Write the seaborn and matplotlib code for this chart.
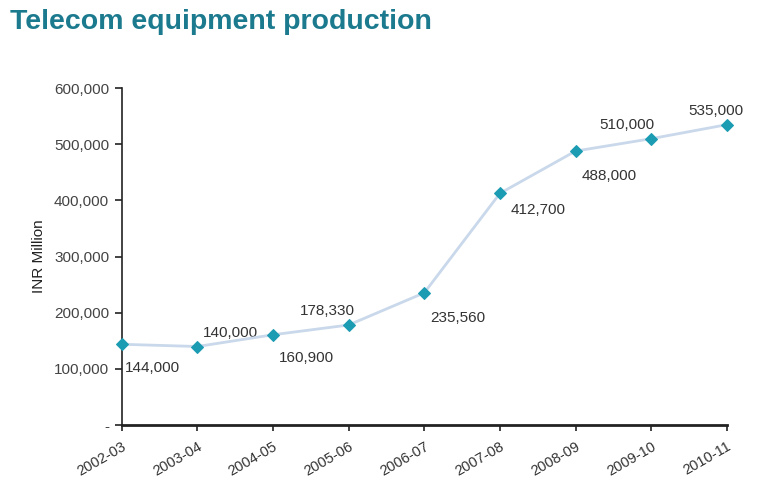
import pandas as pd
import matplotlib.pyplot as plt
import seaborn as sns
from matplotlib.ticker import FuncFormatter

# Data
years = ['2002-03', '2003-04', '2004-05', '2005-06', '2006-07',
         '2007-08', '2008-09', '2009-10', '2010-11']
production = [144000, 140000, 160900, 178330, 235560,
              412700, 488000, 510000, 535000]
point_labels = ['144,000', '140,000', '160,900', '178,330', '235,560',
                '412,700', '488,000', '510,000', '535,000']

data = pd.DataFrame({'year': years, 'production': production})
data['pos'] = range(len(years))

sns.set_style('white')
plt.rcParams['font.family'] = ['Liberation Sans', 'DejaVu Sans']

fig = plt.figure(figsize=(7.7, 4.87), dpi=100)
ax = fig.add_axes([0.158, 0.127, 0.786, 0.692])

sns.lineplot(data=data, x='pos', y='production', ax=ax,
             color='#c9d8ea', linewidth=2, marker='D', markersize=6.5,
             markerfacecolor='#1b9cb2', markeredgecolor='#1b9cb2')
for ln in ax.lines:
    ln.set_clip_on(False)
    ln.set_zorder(5)

# label offsets (points) for each value
offsets = [(2, -17), (4, 10), (4, -17), (-35, 10), (4, -18),
           (8, -12), (4, -18), (-37, 10), (-28, 10)]
for x, y, lab, (dx, dy) in zip(data['pos'], data['production'], point_labels, offsets):
    ax.annotate(lab, (x, y), xytext=(dx, dy), textcoords='offset points',
                fontsize=11, color='#333333', ha='left', va='center')

ax.set_xlim(0, 8)
ax.set_ylim(0, 600000)
ax.set_xticks(data['pos'])
ax.set_xticklabels(years, rotation=30, ha='right', rotation_mode='anchor', fontsize=10.5)
ax.set_yticks(range(0, 600001, 100000))
ax.yaxis.set_major_formatter(FuncFormatter(lambda v, p: '-' if v == 0 else f'{int(v):,}'))
ax.tick_params(axis='y', left=True, direction='out', length=5, width=1.2, labelsize=11,
               colors='#222222', pad=4)
ax.tick_params(axis='x', bottom=True, direction='out', length=4, width=1.2,
               colors='#222222', pad=6)
for lab in ax.get_yticklabels():
    lab.set_color('#444444')
for lab in ax.get_xticklabels():
    lab.set_color('#333333')

sns.despine(ax=ax)
ax.spines['left'].set_color('#222222')
ax.spines['bottom'].set_color('#222222')
ax.spines['bottom'].set_linewidth(2)
ax.spines['left'].set_linewidth(1.2)

ax.set_xlabel('')
ax.set_ylabel('INR Million', fontsize=11, color='#222222', labelpad=6)

fig.text(0.013, 0.955, 'Telecom equipment production', fontsize=20.5, fontweight='bold',
         color='#1c7a8e', ha='left', va='center')

fig.savefig('out.png', dpi=100)
